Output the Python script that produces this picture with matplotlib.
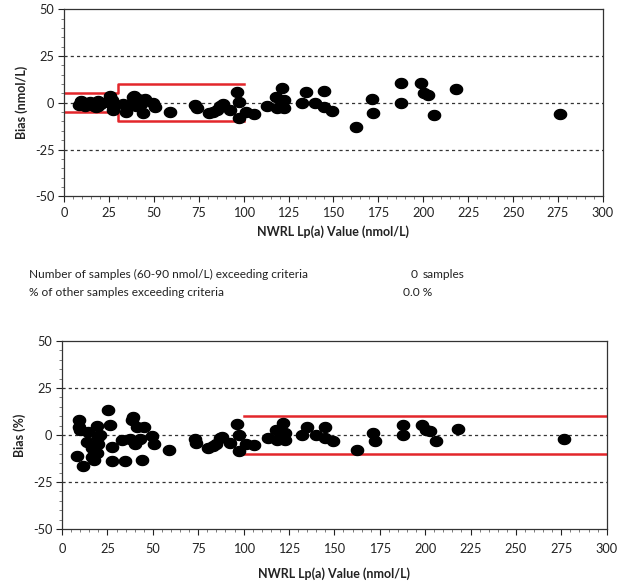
import numpy as np
import matplotlib
matplotlib.use("Agg")
import matplotlib.pyplot as plt
from matplotlib.path import Path
from matplotlib.ticker import MultipleLocator

plt.rcParams['font.family'] = ['Lato', 'DejaVu Sans']
plt.rcParams['axes.unicode_minus'] = False

# NWRL Lp(a) value (nmol/L)
x_vals = [8.4, 9.5, 9.5, 9.8, 11.7, 14.5, 14.0, 16.3, 16.7, 17.6, 19.1, 20.0, 20.0, 19.1, 21.0,
          25.5, 26.5, 27.5, 27.3, 32.8, 34.6, 37.5, 38.9, 38.5, 40.0, 41.0, 43.0, 43.8, 45.0,
          49.3, 50.5, 59.0, 73.2, 74.0, 80.5, 83.2, 85.0, 86.9, 88.3, 92.4, 96.1, 97.6, 97.6,
          101.2, 105.8, 113.2, 117.8, 118.5, 121.5, 122.6, 122.6, 132.3, 134.8, 139.7, 144.7,
          144.7, 149.0, 162.5, 171.2, 172.1, 187.7, 187.7, 198.5, 200.5, 202.4, 206.0, 218.2, 276.4]
# Bias (nmol/L)
bias_nmol = [-1.0, 0.7, 0.4, 0.2, -1.9, 0.2, -0.5, -1.1, -1.9, -2.4, 1.0, -0.2, -0.9, -1.9, 0.0,
             3.4, 1.4, -1.8, -3.8, -0.9, -4.8, -0.8, 3.7, 3.1, -1.8, 1.8, -0.9, -5.7, 2.0,
             -0.3, -2.5, -4.8, -1.4, -3.0, -5.6, -5.0, -3.8, -1.6, -0.9, -3.8, 5.9, 0.3, -8.4,
             -5.0, -5.8, -1.7, 2.9, -2.9, 7.8, 1.5, -3.0, 0.0, 5.9, 0.0, 6.4,
             -2.0, -4.6, -13.2, 1.9, -5.3, 10.5, 0.0, 10.5, 5.4, 4.0, -6.4, 7.4, -5.8]
# Bias (%)
bias_pct = [-11.3, 7.9, 4.3, 2.5, -16.4, 1.7, -3.6, -6.8, -11.6, -13.4, 5.0, -1.0, -4.5, -9.7, 0.0,
            13.2, 5.3, -6.4, -13.9, -2.8, -13.9, -2.0, 9.6, 8.0, -4.5, 4.4, -2.0, -13.0, 4.4,
            -0.7, -5.0, -8.1, -1.9, -4.1, -7.0, -6.0, -4.5, -1.8, -1.0, -4.1, 6.1, 0.3, -8.6,
            -5.0, -5.5, -1.5, 2.5, -2.5, 6.4, 1.2, -2.5, 0.0, 4.4, 0.0, 4.4,
            -1.4, -3.1, -8.1, 1.1, -3.1, 5.6, 0.0, 5.3, 2.7, 2.0, -3.1, 3.4, -2.1]

# Acceptance limits
lim1_x = [0, 30, 30, 100]
lim1_y = [5, 5, 10, 10]
lim2_x = [100, 300]
lim2_y = [10, 10]

x_ticks = [0, 25, 50, 75, 100, 125, 150, 175, 200, 225, 250, 275, 300]
y_ticks = [-50, -25, 0, 25, 50]
grid_levels = [-25, 0, 25]

RED = '#e3262b'
TXT = '#222222'

# slightly wide elliptical marker
t = np.linspace(0, 2 * np.pi, 60)
ell = Path(np.column_stack([1.22 * np.cos(t), np.sin(t)]), closed=True)

fig = plt.figure(figsize=(6.4, 5.84), dpi=100)
ax1 = fig.add_axes([0.100, 0.664, 0.842, 0.320])
ax2 = fig.add_axes([0.097, 0.094, 0.851, 0.322])


def style(ax, ylabel, xpad, lpad):
    ax.set_xlim(0, 300)
    ax.set_ylim(-50, 50)
    ax.set_xticks(x_ticks)
    ax.set_yticks(y_ticks)
    ax.xaxis.set_minor_locator(MultipleLocator(5))
    ax.yaxis.set_minor_locator(MultipleLocator(5))
    ax.tick_params(axis='both', which='major', direction='out', length=4, width=0.8,
                   labelsize=9.2, colors=TXT)
    ax.tick_params(axis='x', which='major', pad=xpad)
    ax.tick_params(axis='y', which='major', pad=3)
    ax.tick_params(axis='both', which='minor', direction='out', length=2.5, width=0.6,
                   colors='#666666')
    for g in grid_levels:
        ax.axhline(g, color='#333333', lw=0.9, ls=(0, (2.5, 2.5)), zorder=1)
    for s in ax.spines.values():
        s.set_color('#333333')
        s.set_linewidth(0.9)
    ax.set_xlabel('NWRL Lp(a) Value (nmol/L)', fontsize=9, fontweight='bold', labelpad=lpad,
                  color=TXT)
    ax.set_ylabel(ylabel, fontsize=9, fontweight='bold', labelpad=5, color=TXT)


style(ax1, 'Bias (nmol/L)', 4, 4)
ax1.plot(lim1_x, lim1_y, color=RED, lw=1.8, zorder=2)
ax1.plot(lim1_x, [-v for v in lim1_y], color=RED, lw=1.8, zorder=2)
ax1.plot(x_vals, bias_nmol, ls='none', marker=ell, ms=8.8, color='black', zorder=3)

style(ax2, 'Bias (%)', 6, 9)
ax2.plot(lim2_x, lim2_y, color=RED, lw=1.8, zorder=2)
ax2.plot(lim2_x, [-v for v in lim2_y], color=RED, lw=1.8, zorder=2)
ax2.plot(x_vals, bias_pct, ls='none', marker=ell, ms=8.8, color='black', zorder=3)

y1 = 1 - 274 / 584
y2 = 1 - 293 / 584
fs = 8.6
fig.text(29 / 640, y1, 'Number of samples (60-90 nmol/L) exceeding criteria',
         fontsize=fs, color=TXT, va='center')
fig.text(418 / 640, y1, '0', fontsize=fs, color=TXT, va='center', ha='right')
fig.text(423 / 640, y1, 'samples', fontsize=fs, color=TXT, va='center')
fig.text(29 / 640, y2, '% of other samples exceeding criteria',
         fontsize=fs, color=TXT, va='center')
fig.text(403 / 640, y2, '0.0 %', fontsize=fs, color=TXT, va='center')

fig.savefig('out.png', dpi=100)
